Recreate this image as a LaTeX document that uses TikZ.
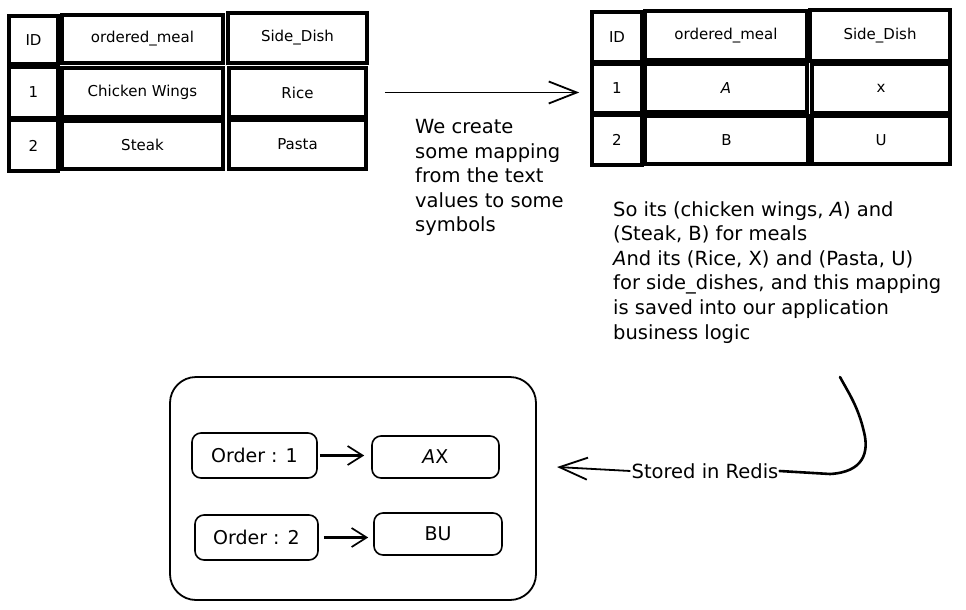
\documentclass[tikz,border=0pt]{standalone}
\usepackage{fontspec}
\setmainfont{DejaVu Sans}
\usetikzlibrary{arrows.meta}
\newcommand\tcell[6]{\node[cell, minimum width={#4-#2}, minimum height={#5-#3}] (#1) at ({(#2+#4)/2},{(#3+#5)/2}) {#6};}
\begin{document}
\begin{tikzpicture}[x=1pt,y=-1pt,
  cell/.style={draw, line width=3.6pt, font=\fontsize{15}{18}\selectfont, inner sep=0pt},
  rbox/.style={draw, line width=1.6pt, rounded corners=9pt, inner sep=0pt, font=\fontsize{19}{22}\selectfont},
  note/.style={align=left, font=\fontsize{19.5}{24.6}\selectfont, inner sep=0pt, anchor=north west},
  bigarrow/.style={line width=1.8pt, -{Straight Barb[length=28pt,width=22pt,line width=1.8pt]}},
  smallarrow/.style={line width=2.2pt, -{Straight Barb[length=15pt,width=19pt,line width=1.7pt]}},
  thickline/.style={line width=2.6pt, line cap=round}]
\useasboundingbox (0,0) rectangle (966,610);
% left table
\tcell{lidh}{9}{16}{58}{64}{ID}
\tcell{lmealh}{62}{15}{223}{63}{ordered\_meal}
\tcell{lsideh}{228}{13}{367}{63}{Side\_Dish}
\tcell{lid1}{9}{67}{58}{118}{1}
\tcell{lmeal1}{62}{68}{223}{117}{Chicken Wings}
\tcell{lside1}{229}{68}{366}{117}{Rice}
\tcell{lid2}{9}{120}{58}{171}{2}
\tcell{lmeal2}{62}{121}{223}{169}{Steak}
\tcell{lside2}{229}{120}{366}{169}{Pasta}
% right table
\tcell{ridh}{592}{12}{642}{62}{ID}
\tcell{rmealh}{645}{11}{807}{60}{ordered\_meal}
\tcell{rsideh}{810}{10}{950}{61}{Side\_Dish}
\tcell{rid1}{592}{64}{642}{113}{1}
\tcell{rmeal1}{645}{64}{807}{112}{\itshape A}
\tcell{rside1}{812}{64}{950}{113}{x}
\tcell{rid2}{592}{115}{642}{165}{2}
\tcell{rmeal2}{645}{116}{808}{164}{B}
\tcell{rside2}{812}{116}{950}{164}{U}
% top arrow
\draw[bigarrow, shorten <=17pt, shorten >=11pt] (lside1.east) -- (lside1.east -| rid1.west);
% notes
\node[note] (n1) at (415,119) {We create\\some mapping\\from the text\\values to some\\symbols};
\node[note] (n2) at (613,201) {So its (chicken wings, \textit{A}) and\\(Steak, B) for meals\\\textit{A}nd its (Rice, X) and (Pasta, U)\\for side\_dishes, and this mapping\\is saved into our application\\business logic};
% bottom container
\node[draw, line width=1.8pt, rounded corners=26pt, minimum width=366, minimum height=223] (redisbox) at (353,488.5) {};
\node[rbox, minimum width=125, minimum height=45] (o1) at (254.5,455.5) {Order : 1};
\node[rbox, minimum width=127, minimum height=42] (ax) at (435.5,457) {\itshape A\upshape X};
\node[rbox, minimum width=123, minimum height=45] (o2) at (256.5,537.5) {Order : 2};
\node[rbox, minimum width=128, minimum height=42] (bu) at (438,534) {BU};
\draw[smallarrow, shorten <=2pt, shorten >=7pt] (o1.east) -- (o1.east -| ax.west);
\draw[smallarrow, shorten <=5pt, shorten >=5pt] (o2.east) -- (o2.east -| bu.west);
% stored in redis
\node[inner sep=1pt, font=\fontsize{19.5}{22}\selectfont] (redis) at (705,471) {Stored in Redis};
\coordinate (rtip) at (557,467);
\coordinate (ctop) at (840,377);
\draw[bigarrow] (redis.west) -- (rtip);
\draw[thickline] (redis.east) -- (830,474) .. controls (864,472) and (869,452) .. (864,432) .. controls (858,406) and (848,392) .. (ctop);
\end{tikzpicture}
\end{document}
